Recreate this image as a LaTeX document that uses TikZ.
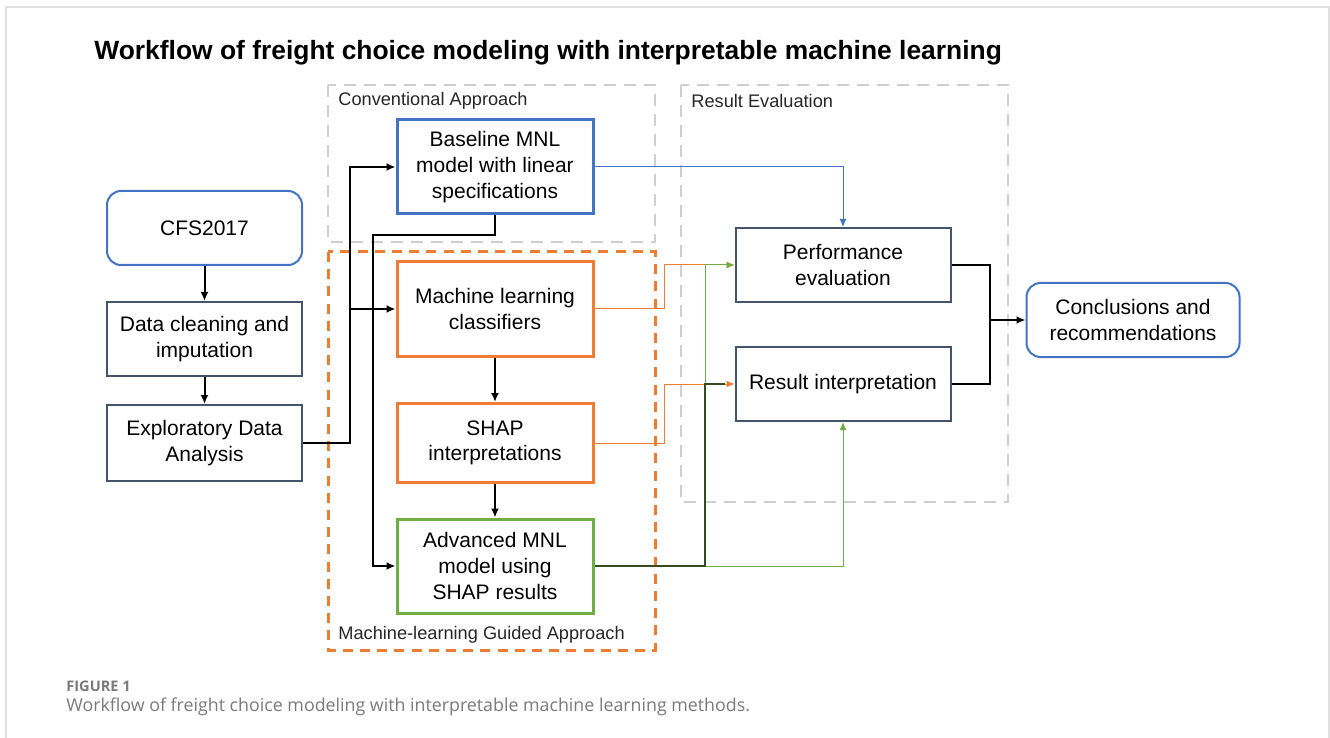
\documentclass[tikz,border=0pt]{standalone}
\usepackage{fontspec}
\setmainfont{Liberation Sans}
\newfontfamily\capfont{Open Sans}
\usetikzlibrary{arrows.meta}
\definecolor{mlblue}{HTML}{4472C4}
\definecolor{mlorange}{HTML}{ED7D31}
\definecolor{mlgreen}{HTML}{70AD47}
\definecolor{mldark}{HTML}{44546A}
\definecolor{mlgray}{HTML}{CFCFCF}
\definecolor{capgray}{HTML}{7A7A7A}
\begin{document}
\begin{tikzpicture}[x=0.5pt,y=-0.5pt]
       \tikzstyle{stepbox}=[draw=mldark, line width=1pt, align=center, inner sep=2pt,
         font=\fontsize{10.5}{12.8}\selectfont, minimum width=97.5pt, minimum height=37pt]
       \tikzstyle{startbox}=[stepbox, draw=mlblue, rounded corners=7pt]
       \tikzstyle{mlbox}=[stepbox, line width=1.5pt, minimum width=98pt, minimum height=47pt]
       \tikzstyle{group}=[mlgray, line width=1pt, dash pattern=on 6pt off 4pt]
       \tikzstyle{grouplabel}=[anchor=west, inner sep=0pt, font=\fontsize{9.1}{10}\selectfont, text=black!85]
       \tikzstyle{arr}=[line width=1pt, -{Latex[length=4.5pt,width=4pt]}]
       \tikzstyle{link}=[line width=0.5pt, -{Latex[length=4pt,width=3.5pt]}]
       \useasboundingbox (0,0) rectangle (1330,738);
       \draw[black!12, line width=0.6pt] (6,760) -- (6,7) -- (1329,7) -- (1329,760);
       \node[anchor=west, inner sep=0pt, font=\bfseries\fontsize{13.2}{15}\selectfont] (title) at (94,53)
         {Workflow of freight choice modeling with interpretable machine learning};

       % dashed groups
       \draw[group] (328,85) rectangle (655,242);
       \draw[group] (681,85) rectangle (1008,502);
       \draw[mlorange, line width=1.5pt, dash pattern=on 5pt off 3.6pt] (328,252) rectangle (655,650);
       \node[grouplabel] (convlabel) at (338,101) {Conventional Approach};
       \node[grouplabel] (evallabel) at (691,101) {Result Evaluation};
       \node[grouplabel] (guidelabel) at (338,635) {Machine-learning Guided Approach};

       \node[startbox] (cfs) at (204.5,228) {CFS2017};
       \node[stepbox] (clean) at (204.5,339) {Data cleaning and\\imputation};
       \node[stepbox, minimum height=38pt] (eda) at (204.5,443) {Exploratory Data\\Analysis};
       \node[mlbox, draw=mlblue] (base) at (495,167) {Baseline MNL\\model with linear\\specifications};
       \node[mlbox, draw=mlorange] (mlc) at (495,309) {Machine learning\\classifiers};
       \node[mlbox, draw=mlorange, minimum height=39.5pt] (shap) at (495,443) {SHAP\\interpretations};
       \node[mlbox, draw=mlgreen] (adv) at (495,566) {Advanced MNL\\model using\\SHAP results};
       \node[stepbox, minimum width=107.5pt] (perf) at (843,265) {Performance\\evaluation};
       \node[stepbox, minimum width=107.5pt] (interp) at (843,384) {Result interpretation};
       \node[startbox, minimum width=106.5pt] (concl) at (1133,320) {Conclusions and\\recommendations};

       \coordinate (split) at (350,443);
       \coordinate (drop) at (373,235);
       \coordinate (mlturn) at (664,309);
       \coordinate (shapturn) at (664,443);
       \coordinate (advturn) at (705,566);
       \coordinate (join) at (990,320);

       \draw[arr] (cfs) -- (clean);
       \draw[arr] (clean) -- (eda);
       \draw[arr] (eda.east) -- (split) |- (base.west);
       \draw[arr] (split) |- (mlc.west);
       \draw[arr] (base.south) |- (drop) |- (adv.west);
       \draw[arr] (mlc) -- (shap);
       \draw[arr] (shap) -- (adv);

       \draw[link, mlblue] (base.east) -| (perf.north);
       \draw[link, mlorange] (mlc.east) -- (mlturn) |- (perf.west);
       \draw[link, mlorange] (shap.east) -- (shapturn) |- (interp.west);
       \draw[link, mlgreen] (adv.east) -- (advturn) |- (perf.west);
       \draw[link, mlgreen] (adv.east) -| (interp.south);
       \draw[line width=0.8pt, mlgreen!45!black] (adv.east) -- (advturn) |- ([xshift=-5pt]interp.west);

       \draw[line width=1pt] (perf.east) -| (join);
       \draw[line width=1pt] (interp.east) -| (join);
       \draw[arr] (join) -- (concl.west);

       \node[anchor=west, inner sep=0pt, text=capgray, font=\capfont\bfseries\fontsize{7.3}{8}\selectfont] (fig) at (66,686) {FIGURE 1};
       \node[anchor=west, inner sep=0pt, text=capgray, font=\capfont\fontsize{8.9}{11}\selectfont] (caption) at (66,707)
         {Workflow of freight choice modeling with interpretable machine learning methods.};
      \end{tikzpicture}
\end{document}
